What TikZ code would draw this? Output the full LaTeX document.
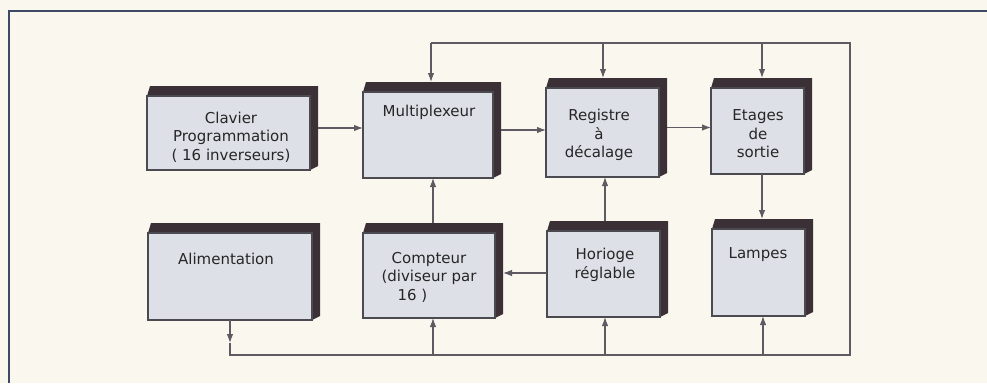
\documentclass[tikz,border=0pt]{standalone}
\usepackage{fontspec}
\setmainfont{DejaVu Sans}
\usetikzlibrary{arrows.meta}
\definecolor{bgc}{HTML}{FAF7EF}
\definecolor{facec}{HTML}{DEE0E8}
\definecolor{shadc}{HTML}{3A3036}
\definecolor{edgec}{HTML}{4A4A50}
\definecolor{linec}{HTML}{5E5A62}
\definecolor{framec}{HTML}{3C4A66}
\tikzset{
  outerbox/.style={draw=none, inner sep=0pt, outer sep=0pt, anchor=north west},
  lbl/.style={font=\fontsize{15}{18.5}\selectfont, align=center, text=black!85, inner sep=0pt},
  conn/.style={draw=linec, line width=1.1pt},
  arr/.style={conn, -{Latex[length=9pt,width=6.5pt]}}
}
% #1 name, #2 x1, #3 y1, #4 x2, #5 y2 (face rectangle, pixel coords)
\newcommand\blockbox[5]{%
  \fill[shadc] (#2,#3) -- (#2+3,#3-10) -- (#4+8,#3-10) -- (#4+8,#5-4) -- (#4,#5) -- cycle;
  \filldraw[fill=facec, draw=edgec, line width=1.3pt] (#2,#3) rectangle (#4,#5);
  \node[outerbox, minimum width=#4+8-#2, minimum height=#5-#3+10] (#1) at (#2,#3-10) {};
}
\begin{document}
\begin{tikzpicture}[x=1pt, y=-1pt]
\fill[bgc] (0,0) rectangle (987,383);
\useasboundingbox (0,0) rectangle (987,383);
% frame
\draw[framec, line width=1.8pt] (9,383) -- (9,11) -- (987,11);

% boxes
\blockbox{clav}{147}{96}{310}{170}
\blockbox{mux}{363}{92}{493}{178}
\blockbox{reg}{546}{88}{659}{177}
\blockbox{eta}{711}{88}{804}{174}
\blockbox{alim}{148}{233}{312}{320}
\blockbox{cpt}{363}{233}{495}{318}
\blockbox{hor}{547}{231}{660}{317}
\blockbox{lam}{712}{229}{805}{316}

% texts
\node[lbl] (tclav) at (231,137) {Clavier\\Programmation\\( 16 inverseurs)};
\node[lbl] (tmux) at (429,112) {Multiplexeur};
\node[lbl] (treg) at (599,135) {Registre\\à\\décalage};
\node[lbl] (teta) at (758,134) {Etages\\de\\sortie};
\node[lbl] (talim) at (226,259) {Alimentation};
\node[lbl] (tcpt) at (429,277) {Compteur\\(diviseur par\\\hspace*{-2.2em}16 )};
\node[lbl] (thor) at (605,265) {Horioge\\réglable};
\node[lbl] (tlam) at (758,255) {Lampes};

% bus coordinates
\coordinate (tbm) at (431,43);
\coordinate (tbr) at (603,43);
\coordinate (tbe) at (762,43);
\coordinate (trc) at (850,43);
\coordinate (brc) at (850,355);
\coordinate (bba) at (230,355);
\coordinate (bam) at (230,343);
\coordinate (bbc) at (433,355);
\coordinate (bbh) at (605,355);
\coordinate (bbl) at (763,355);

% buses
\draw[conn] (tbm) -- (trc) -- (brc) -- (bba) -- (bam);
\draw[arr] (tbm) -- (tbm |- mux.north);
\draw[arr] (tbr) -- (tbr |- reg.north);
\draw[arr] (tbe) -- (tbe |- eta.north);
\draw[arr] (bam |- alim.south) -- (bam);
\draw[arr] (bbc) -- (bbc |- cpt.south);
\draw[arr] (bbh) -- (bbh |- hor.south);
\draw[arr] (bbl) -- (bbl |- lam.south);

% main connectors
\draw[arr] (clav.east) -- (clav.east -| mux.west);
\draw[arr] (mux.east) -- (mux.east -| reg.west);
\draw[arr] (reg.east) -- (reg.east -| eta.west);
\draw[arr] (eta.south -| tbe) -- (lam.north -| tbe);
\draw[arr] (cpt.north -| bbc) -- (mux.south -| bbc);
\draw[arr] (hor.north -| bbh) -- (reg.south -| bbh);
\draw[arr] ([yshift=-4pt]hor.west) -- ([yshift=-4pt]hor.west -| cpt.east);
\end{tikzpicture}
\end{document}
